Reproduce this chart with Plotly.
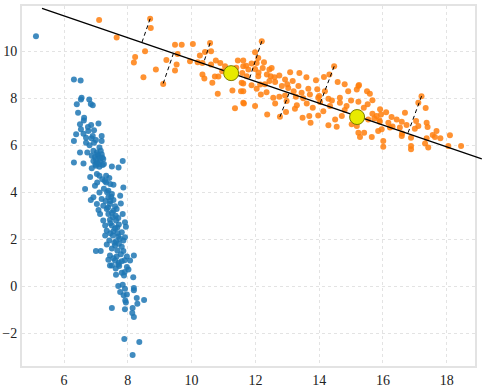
import plotly.graph_objects as go

# ---------------- data ----------------
blue_x = [5.12,
    6.31, 6.52, 6.55, 6.53, 6.79, 6.40, 6.84, 6.90, 6.44, 6.63, 6.50, 6.85, 7.08, 6.53, 6.76, 6.94,
    6.38, 6.61, 6.69, 6.90, 7.18, 6.31, 6.69, 6.94, 7.18, 7.11, 6.50, 6.73, 6.92, 7.03, 7.15, 6.87,
    6.97, 7.08, 7.18, 6.31, 6.61, 6.92, 7.03, 7.13, 7.23, 7.00, 7.11, 7.21, 6.87, 7.50, 7.71, 7.84,
    6.82, 7.03, 7.11, 7.32, 7.42, 7.04, 6.97, 7.32, 7.55, 7.86, 6.66, 7.11, 7.39, 7.50, 7.76, 6.92,
    6.84, 7.18, 7.39, 7.55, 7.03, 7.23, 7.44, 7.78, 7.08, 7.34, 7.55, 7.65, 7.13, 7.39, 7.53, 7.84,
    7.23, 7.44, 7.63, 7.91, 7.29, 7.50, 7.67, 7.94, 7.34, 7.55, 7.81, 7.29, 7.53, 7.70, 7.91, 7.42,
    7.63, 7.86, 7.34, 7.60, 7.81, 7.00, 7.15, 7.67, 7.86, 7.44, 7.65, 7.97, 8.19, 7.39, 7.60, 7.81,
    8.07, 7.50, 7.70, 7.97,
    7.44, 7.73, 8.02, 7.63, 7.81, 7.88, 8.17, 7.70, 7.84, 7.91, 8.19, 8.19, 7.76, 7.87, 7.97, 8.28,
    8.51, 7.92, 8.30, 7.94, 7.50, 7.91, 8.15, 8.14, 8.19, 7.89, 8.36, 8.15,
    7.05, 7.12, 7.00, 7.20, 7.10, 6.98, 7.25, 7.20, 7.28, 7.45, 7.25, 7.35, 7.48, 7.30, 7.45, 7.60,
    7.38, 7.50, 7.62, 7.70, 7.45, 7.60, 7.72, 7.68, 7.45, 7.75, 7.58, 7.72, 7.50, 7.78, 7.55, 7.90,
    7.72, 7.62, 7.90, 6.62, 6.75, 6.86, 7.00, 6.80]
blue_y = [10.64,
    8.80, 8.76, 8.02, 7.95, 7.95, 7.74, 7.76, 7.70, 7.38, 7.17, 6.89, 6.86, 6.92, 6.68, 6.61, 6.64,
    6.47, 6.49, 6.32, 6.39, 6.39, 6.18, 6.11, 6.11, 6.18, 5.90, 5.69, 5.69, 5.76, 5.69, 5.76, 5.55,
    5.50, 5.55, 5.62, 5.26, 5.22, 5.33, 5.26, 5.33, 5.41, 5.12, 5.08, 5.16, 5.02, 5.09, 5.05, 5.33,
    4.65, 4.77, 4.70, 4.70, 4.60, 4.41, 4.27, 4.41, 4.32, 4.20, 4.13, 3.99, 4.06, 3.92, 3.85, 3.78,
    3.67, 3.71, 3.78, 3.67, 3.50, 3.42, 3.50, 3.52, 3.24, 3.28, 3.21, 3.28, 3.07, 3.07, 2.93, 3.07,
    2.79, 2.82, 2.79, 2.72, 2.58, 2.58, 2.50, 2.53, 2.36, 2.33, 2.29, 2.15, 2.15, 2.11, 2.08, 1.94,
    1.91, 1.94, 1.77, 1.73, 1.68, 1.49, 1.49, 1.51, 1.49, 1.30, 1.26, 1.26, 1.30, 1.12, 1.09, 1.06,
    1.09, 0.88, 0.92, 0.81,
    0.88, 0.85, 0.71, 0.48, 0.57, 0.45, 0.38, 0.00, 0.06, -0.11, -0.08, -0.18, -0.25, -0.39, -0.36, -0.51,
    -0.59, -0.61, -0.75, -0.70, -0.93, -0.99, -0.93, -1.15, -1.32, -2.26, -2.38, -2.94,
    5.60, 5.45, 5.38, 5.48, 5.20, 5.18, 5.20, 4.55, 4.48, 4.35, 4.15, 4.00, 3.80, 3.62, 3.62, 3.40,
    3.35, 3.12, 3.00, 2.90, 2.68, 2.45, 2.62, 2.25, 2.25, 2.02, 1.85, 1.80, 1.60, 1.35, 1.18, 1.10,
    1.00, 0.75, 0.60, 7.05, 6.78, 6.30, 6.22, 6.00]

orange_x = [
    7.10, 7.65, 8.70, 8.72, 8.54, 8.23, 8.19, 8.88, 8.49, 9.48, 9.69, 10.04, 9.56, 9.21, 9.53, 9.48,
    9.11, 10.58, 10.61, 10.42, 10.26, 9.95, 10.19, 10.34, 10.61, 10.76, 10.34, 10.40, 10.65, 10.73, 10.84, 10.82,
    10.96, 11.05, 11.28, 11.55, 11.36, 11.62, 11.45, 11.62, 11.62, 11.59, 11.57, 12.20, 11.99, 12.09, 11.71, 11.88,
    12.04, 12.27, 11.78, 11.99, 12.23, 12.44, 12.51, 11.73, 12.09, 12.36, 12.48, 12.75, 13.09, 13.38, 11.62, 11.88,
    12.15, 12.44, 12.62, 12.93, 13.17, 13.90, 14.15, 14.32, 14.47, 11.62, 12.04, 12.17, 12.35, 12.83, 13.03, 13.35,
    13.66, 13.94, 14.18, 14.58, 12.56, 12.75, 12.93, 13.27, 13.45, 13.71, 13.97, 14.29, 14.65, 14.91, 15.23, 11.64,
    11.99, 12.62, 12.98, 13.30, 13.61, 14.03, 14.34, 14.65, 14.86, 12.37, 12.77, 12.96, 13.24, 13.48, 13.69, 13.73,
    13.97, 14.13, 14.50, 14.71, 14.29, 14.55, 15.02, 15.18, 15.25, 15.18, 15.59, 15.23, 15.52, 15.67, 17.21, 17.11,
    17.34, 15.91, 15.67, 15.80, 15.94, 15.54, 15.73, 15.89, 16.27, 16.43, 16.69, 16.17, 16.59, 16.74, 17.04, 17.37,
    17.11, 17.40, 17.68, 17.56, 17.37, 17.32, 17.42, 18.10, 18.45, 15.23, 15.41, 15.28, 15.65, 15.85, 15.96, 16.22,
    16.53, 16.59, 16.01, 16.01, 16.88, 16.88, 16.88, 17.63, 18.05,
    12.30, 12.60, 13.00, 13.20, 13.50, 13.80, 14.00, 14.40, 14.80, 15.00, 15.40, 15.90, 16.30, 16.60,
    12.10, 11.40, 10.90, 13.60, 14.80, 15.50, 16.10, 17.00, 17.80]
orange_y = [
    11.33, 10.59, 11.39, 10.99, 10.00, 9.76, 9.52, 9.22, 8.90, 10.28, 10.28, 10.31, 9.89, 9.63, 9.44, 9.18,
    8.61, 10.35, 10.00, 9.97, 9.82, 9.58, 9.53, 9.50, 9.44, 9.61, 9.01, 8.84, 8.66, 8.93, 8.93, 8.19,
    9.15, 9.36, 8.33, 8.30, 7.57, 7.81, 9.61, 9.61, 9.36, 9.08, 8.66, 10.43, 9.96, 9.72, 9.39, 9.48,
    9.50, 9.53, 9.22, 9.25, 9.29, 9.22, 9.29, 8.94, 8.94, 9.01, 8.94, 8.97, 9.11, 9.08, 8.63, 8.55,
    8.59, 8.73, 8.69, 8.80, 8.73, 8.77, 8.91, 9.01, 9.36, 8.30, 8.40, 8.16, 8.26, 8.52, 8.44, 8.52,
    8.40, 8.38, 8.30, 8.69, 8.02, 8.06, 8.12, 8.06, 8.23, 8.16, 8.02, 7.98, 8.02, 8.30, 8.52, 7.78,
    7.67, 7.78, 7.88, 7.70, 7.78, 7.84, 7.67, 7.81, 7.67, 7.31, 7.21, 7.41, 7.55, 7.17, 7.24, 6.96,
    7.27, 7.45, 7.10, 7.24, 6.85, 6.79, 6.89, 6.82, 8.56, 8.37, 8.19, 7.85, 7.74, 7.91, 8.09, 7.81,
    7.59, 7.53, 7.34, 7.24, 7.31, 7.10, 7.14, 7.06, 7.20, 7.10, 7.38, 6.96, 7.00, 6.86, 7.03, 6.96,
    6.82, 6.78, 6.61, 6.44, 6.30, 6.07, 5.90, 6.42, 5.97, 6.53, 6.53, 6.35, 6.35, 6.61, 6.68, 6.75,
    6.75, 6.39, 6.18, 5.93, 6.32, 5.97, 5.83, 6.35, 5.97,
    8.60, 8.90, 8.60, 8.30, 8.00, 7.60, 8.10, 7.90, 7.50, 7.90, 7.60, 7.00, 6.80, 6.50,
    9.10, 9.30, 9.50, 8.90, 8.60, 8.30, 7.40, 6.70, 6.30]

# principal line and its two marked points
line_x = [5.31, 19.10]
line_y = [11.83, 5.42]
center_x = [11.24, 15.19]
center_y = [9.07, 7.20]

# dashed projection segments: from a point to the line
proj_x0 = [8.70, 9.11, 10.58, 12.20, 12.77, 14.47, 17.21]
proj_y0 = [11.39, 8.63, 10.35, 10.43, 7.21, 9.36, 8.09]
proj_x1 = [8.44, 9.43, 10.37, 11.81, 13.06, 14.03, 16.78]
proj_y1 = [10.37, 9.91, 9.48, 8.81, 8.23, 7.78, 6.50]

x_ticks = [6, 8, 10, 12, 14, 16, 18]
y_ticks = [-2, 0, 2, 4, 6, 8, 10]

# ---------------- figure ----------------
X_MIN, X_MAX, X_MAX_EXT = 4.682, 18.886, 19.106
Y_MIN, Y_MAX = -3.405, 11.93
W, H = 482, 389
ML, MR, MT, MB = 22, 0, 6, 23
frame_frac = (X_MAX - X_MIN) / (X_MAX_EXT - X_MIN)

fig = go.Figure()

fig.add_trace(go.Scatter(x=blue_x, y=blue_y, mode="markers",
                         marker=dict(color="#1f77b4", size=6, opacity=0.85, line=dict(width=0)),
                         xaxis="x", yaxis="y", hoverinfo="skip"))
fig.add_trace(go.Scatter(x=orange_x, y=orange_y, mode="markers",
                         marker=dict(color="#ff7f0e", size=6, opacity=0.85, line=dict(width=0)),
                         xaxis="x", yaxis="y", hoverinfo="skip"))

# line / projections / centers on an overlay axis that extends past the frame
for a, b, c, d in zip(proj_x0, proj_y0, proj_x1, proj_y1):
    fig.add_trace(go.Scatter(x=[a, c], y=[b, d], mode="lines",
                             line=dict(color="black", width=1, dash="4px,3px"),
                             xaxis="x2", yaxis="y2", hoverinfo="skip"))
fig.add_trace(go.Scatter(x=line_x, y=line_y, mode="lines",
                         line=dict(color="black", width=1.3),
                         xaxis="x2", yaxis="y2", hoverinfo="skip"))
fig.add_trace(go.Scatter(x=center_x, y=center_y, mode="markers",
                         marker=dict(color="#e8ea00", size=15, line=dict(color="#7a7a00", width=1)),
                         xaxis="x2", yaxis="y2", hoverinfo="skip"))

tick_font = dict(family="Liberation Serif", size=14, color="#222")
grid = dict(showgrid=True, gridcolor="#e3e3e3", gridwidth=1, griddash="3px,3px",
            zeroline=False, showline=True, mirror=True, linecolor="#e3e3e3", linewidth=2,
            ticks="", tickfont=tick_font)

fig.update_layout(
    width=W, height=H,
    margin=dict(l=ML, r=MR, t=MT, b=MB),
    paper_bgcolor="white", plot_bgcolor="rgba(0,0,0,0)",
    showlegend=False,
    font=dict(family="Liberation Serif"),
    xaxis=dict(domain=[0, frame_frac], range=[X_MIN, X_MAX], tickvals=x_ticks, anchor="y", **grid),
    yaxis=dict(domain=[0, 1], range=[Y_MIN, Y_MAX], tickvals=y_ticks, anchor="x", **grid),
    xaxis2=dict(domain=[0, 1], range=[X_MIN, X_MAX_EXT], visible=False, anchor="y2"),
    yaxis2=dict(domain=[0, 1], range=[Y_MIN, Y_MAX], visible=False, anchor="x2"),
)

fig.write_html("out.html", config={"displayModeBar": False},
               post_script="document.body.style.margin='0';")
